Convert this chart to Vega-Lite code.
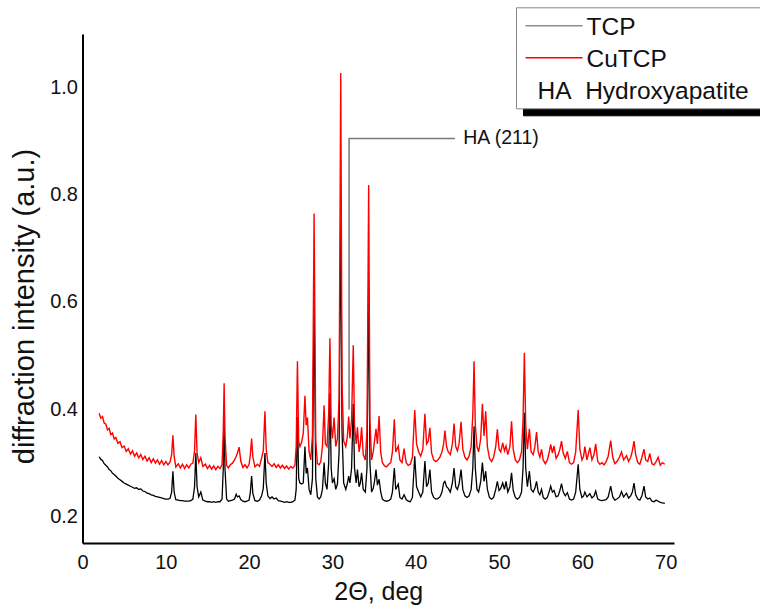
{
  "$schema": "https://vega.github.io/schema/vega-lite/v6.json",
  "width": 591.5,
  "height": 509,
  "autosize": "none",
  "padding": {"left": 82.5, "top": 34, "right": 86, "bottom": 71},
  "background": "white",
  "config": {
    "view": {"stroke": null},
    "font": "Liberation Sans",
    "axis": {
      "domainColor": "#000000",
      "domainWidth": 2,
      "ticks": false,
      "tickSize": 0,
      "grid": false,
      "labelFont": "Liberation Sans",
      "labelFontSize": 20,
      "labelColor": "#111111",
      "titleFont": "Liberation Sans",
      "titleFontWeight": "normal",
      "titleColor": "#111111"
    }
  },
  "datasets": {
    "xrd": [
      {"x":2.0,"TCP":0.311,"CuTCP":0.392},{"x":2.2,"TCP":0.306,"CuTCP":0.383},{"x":2.4,"TCP":0.304,"CuTCP":0.386},
      {"x":2.6,"TCP":0.298,"CuTCP":0.374},{"x":2.8,"TCP":0.295,"CuTCP":0.372},{"x":3.0,"TCP":0.292,"CuTCP":0.361},
      {"x":3.2,"TCP":0.287,"CuTCP":0.364},{"x":3.4,"TCP":0.285,"CuTCP":0.352},{"x":3.6,"TCP":0.280,"CuTCP":0.355},
      {"x":3.8,"TCP":0.278,"CuTCP":0.344},{"x":4.0,"TCP":0.275,"CuTCP":0.347},{"x":4.25,"TCP":0.271,"CuTCP":0.336},
      {"x":4.5,"TCP":0.268,"CuTCP":0.339},{"x":4.75,"TCP":0.265,"CuTCP":0.328},{"x":5.0,"TCP":0.262,"CuTCP":0.331},
      {"x":5.25,"TCP":0.260,"CuTCP":0.321},{"x":5.5,"TCP":0.258,"CuTCP":0.326},{"x":5.75,"TCP":0.256,"CuTCP":0.316},
      {"x":6.0,"TCP":0.254,"CuTCP":0.322},{"x":6.25,"TCP":0.252,"CuTCP":0.312},{"x":6.5,"TCP":0.253,"CuTCP":0.318},
      {"x":6.75,"TCP":0.250,"CuTCP":0.309},{"x":7.0,"TCP":0.251,"CuTCP":0.315},{"x":7.25,"TCP":0.247,"CuTCP":0.306},
      {"x":7.5,"TCP":0.246,"CuTCP":0.312},{"x":7.75,"TCP":0.243,"CuTCP":0.303},{"x":8.0,"TCP":0.242,"CuTCP":0.309},
      {"x":8.25,"TCP":0.240,"CuTCP":0.300},{"x":8.5,"TCP":0.239,"CuTCP":0.307},{"x":8.75,"TCP":0.237,"CuTCP":0.299},
      {"x":9.0,"TCP":0.236,"CuTCP":0.305},{"x":9.25,"TCP":0.235,"CuTCP":0.297},{"x":9.5,"TCP":0.234,"CuTCP":0.304},
      {"x":9.75,"TCP":0.233,"CuTCP":0.296},{"x":10.0,"TCP":0.232,"CuTCP":0.302},{"x":10.25,"TCP":0.232,"CuTCP":0.296},
      {"x":10.5,"TCP":0.233,"CuTCP":0.301},{"x":10.7,"TCP":0.245,"CuTCP":0.315},{"x":10.85,"TCP":0.284,"CuTCP":0.351},
      {"x":11.0,"TCP":0.245,"CuTCP":0.312},{"x":11.2,"TCP":0.231,"CuTCP":0.292},{"x":11.5,"TCP":0.230,"CuTCP":0.298},
      {"x":11.75,"TCP":0.229,"CuTCP":0.290},{"x":12.0,"TCP":0.229,"CuTCP":0.297},{"x":12.25,"TCP":0.228,"CuTCP":0.289},
      {"x":12.5,"TCP":0.228,"CuTCP":0.296},{"x":12.75,"TCP":0.228,"CuTCP":0.290},{"x":13.0,"TCP":0.229,"CuTCP":0.297},
      {"x":13.25,"TCP":0.232,"CuTCP":0.299},{"x":13.45,"TCP":0.255,"CuTCP":0.322},{"x":13.6,"TCP":0.318,"CuTCP":0.390},
      {"x":13.75,"TCP":0.255,"CuTCP":0.318},{"x":13.95,"TCP":0.236,"CuTCP":0.300},{"x":14.2,"TCP":0.245,"CuTCP":0.309},
      {"x":14.45,"TCP":0.230,"CuTCP":0.293},{"x":14.75,"TCP":0.228,"CuTCP":0.297},{"x":15.0,"TCP":0.227,"CuTCP":0.289},
      {"x":15.25,"TCP":0.227,"CuTCP":0.295},{"x":15.5,"TCP":0.226,"CuTCP":0.288},{"x":15.75,"TCP":0.227,"CuTCP":0.294},
      {"x":16.0,"TCP":0.226,"CuTCP":0.287},{"x":16.25,"TCP":0.227,"CuTCP":0.293},{"x":16.5,"TCP":0.227,"CuTCP":0.289},
      {"x":16.75,"TCP":0.232,"CuTCP":0.296},{"x":16.9,"TCP":0.290,"CuTCP":0.360},{"x":17.0,"TCP":0.395,"CuTCP":0.448},
      {"x":17.1,"TCP":0.290,"CuTCP":0.350},{"x":17.3,"TCP":0.232,"CuTCP":0.295},{"x":17.5,"TCP":0.228,"CuTCP":0.290},
      {"x":17.75,"TCP":0.229,"CuTCP":0.296},{"x":18.0,"TCP":0.230,"CuTCP":0.299},{"x":18.25,"TCP":0.232,"CuTCP":0.305},
      {"x":18.45,"TCP":0.241,"CuTCP":0.312},{"x":18.6,"TCP":0.236,"CuTCP":0.318},{"x":18.8,"TCP":0.238,"CuTCP":0.329},
      {"x":19.0,"TCP":0.231,"CuTCP":0.303},{"x":19.25,"TCP":0.228,"CuTCP":0.291},{"x":19.5,"TCP":0.227,"CuTCP":0.296},
      {"x":19.75,"TCP":0.228,"CuTCP":0.290},{"x":20.0,"TCP":0.230,"CuTCP":0.297},{"x":20.15,"TCP":0.245,"CuTCP":0.315},
      {"x":20.3,"TCP":0.275,"CuTCP":0.345},{"x":20.45,"TCP":0.242,"CuTCP":0.310},{"x":20.7,"TCP":0.229,"CuTCP":0.292},
      {"x":21.0,"TCP":0.228,"CuTCP":0.297},{"x":21.25,"TCP":0.230,"CuTCP":0.293},{"x":21.5,"TCP":0.238,"CuTCP":0.309},
      {"x":21.7,"TCP":0.252,"CuTCP":0.322},{"x":21.9,"TCP":0.318,"CuTCP":0.396},{"x":22.05,"TCP":0.262,"CuTCP":0.325},
      {"x":22.25,"TCP":0.238,"CuTCP":0.300},{"x":22.5,"TCP":0.233,"CuTCP":0.297},{"x":22.75,"TCP":0.236,"CuTCP":0.293},
      {"x":23.0,"TCP":0.232,"CuTCP":0.298},{"x":23.25,"TCP":0.234,"CuTCP":0.291},{"x":23.5,"TCP":0.229,"CuTCP":0.296},
      {"x":23.75,"TCP":0.228,"CuTCP":0.290},{"x":24.0,"TCP":0.227,"CuTCP":0.295},{"x":24.25,"TCP":0.226,"CuTCP":0.289},
      {"x":24.5,"TCP":0.227,"CuTCP":0.294},{"x":24.75,"TCP":0.226,"CuTCP":0.288},{"x":25.0,"TCP":0.226,"CuTCP":0.293},
      {"x":25.25,"TCP":0.227,"CuTCP":0.290},{"x":25.5,"TCP":0.230,"CuTCP":0.295},{"x":25.65,"TCP":0.250,"CuTCP":0.330},
      {"x":25.8,"TCP":0.385,"CuTCP":0.489},{"x":25.95,"TCP":0.270,"CuTCP":0.340},{"x":26.1,"TCP":0.262,"CuTCP":0.330},
      {"x":26.3,"TCP":0.260,"CuTCP":0.338},{"x":26.5,"TCP":0.262,"CuTCP":0.355},{"x":26.7,"TCP":0.330,"CuTCP":0.425},
      {"x":26.85,"TCP":0.280,"CuTCP":0.370},{"x":27.0,"TCP":0.290,"CuTCP":0.384},{"x":27.2,"TCP":0.250,"CuTCP":0.320},
      {"x":27.4,"TCP":0.240,"CuTCP":0.305},{"x":27.6,"TCP":0.270,"CuTCP":0.350},{"x":27.8,"TCP":0.600,"CuTCP":0.765},
      {"x":28.0,"TCP":0.270,"CuTCP":0.340},{"x":28.2,"TCP":0.236,"CuTCP":0.298},{"x":28.4,"TCP":0.232,"CuTCP":0.296},
      {"x":28.6,"TCP":0.236,"CuTCP":0.302},{"x":28.8,"TCP":0.250,"CuTCP":0.330},{"x":29.0,"TCP":0.300,"CuTCP":0.407},
      {"x":29.15,"TCP":0.262,"CuTCP":0.335},{"x":29.35,"TCP":0.250,"CuTCP":0.330},{"x":29.55,"TCP":0.300,"CuTCP":0.390},
      {"x":29.7,"TCP":0.430,"CuTCP":0.532},{"x":29.85,"TCP":0.290,"CuTCP":0.370},{"x":30.0,"TCP":0.262,"CuTCP":0.345},
      {"x":30.2,"TCP":0.270,"CuTCP":0.384},{"x":30.4,"TCP":0.250,"CuTCP":0.330},{"x":30.6,"TCP":0.260,"CuTCP":0.345},
      {"x":30.8,"TCP":0.320,"CuTCP":0.420},{"x":31.0,"TCP":0.800,"CuTCP":1.027},{"x":31.15,"TCP":0.360,"CuTCP":0.450},
      {"x":31.35,"TCP":0.262,"CuTCP":0.340},{"x":31.6,"TCP":0.250,"CuTCP":0.330},{"x":31.8,"TCP":0.262,"CuTCP":0.350},
      {"x":31.95,"TCP":0.275,"CuTCP":0.386},{"x":32.1,"TCP":0.262,"CuTCP":0.345},{"x":32.3,"TCP":0.290,"CuTCP":0.380},
      {"x":32.5,"TCP":0.410,"CuTCP":0.519},{"x":32.65,"TCP":0.290,"CuTCP":0.370},{"x":32.85,"TCP":0.262,"CuTCP":0.335},
      {"x":33.0,"TCP":0.287,"CuTCP":0.366},{"x":33.2,"TCP":0.255,"CuTCP":0.320},{"x":33.35,"TCP":0.262,"CuTCP":0.335},
      {"x":33.5,"TCP":0.281,"CuTCP":0.366},{"x":33.7,"TCP":0.250,"CuTCP":0.315},{"x":33.95,"TCP":0.245,"CuTCP":0.305},
      {"x":34.15,"TCP":0.290,"CuTCP":0.360},{"x":34.35,"TCP":0.640,"CuTCP":0.818},{"x":34.5,"TCP":0.300,"CuTCP":0.380},
      {"x":34.7,"TCP":0.245,"CuTCP":0.305},{"x":34.9,"TCP":0.252,"CuTCP":0.320},{"x":35.05,"TCP":0.265,"CuTCP":0.340},
      {"x":35.23,"TCP":0.287,"CuTCP":0.363},{"x":35.4,"TCP":0.258,"CuTCP":0.335},{"x":35.6,"TCP":0.269,"CuTCP":0.387},
      {"x":35.8,"TCP":0.245,"CuTCP":0.318},{"x":36.0,"TCP":0.232,"CuTCP":0.300},{"x":36.25,"TCP":0.229,"CuTCP":0.294},
      {"x":36.5,"TCP":0.228,"CuTCP":0.292},{"x":36.75,"TCP":0.229,"CuTCP":0.297},{"x":37.0,"TCP":0.232,"CuTCP":0.300},
      {"x":37.2,"TCP":0.245,"CuTCP":0.320},{"x":37.43,"TCP":0.290,"CuTCP":0.381},{"x":37.6,"TCP":0.250,"CuTCP":0.320},
      {"x":37.9,"TCP":0.260,"CuTCP":0.331},{"x":38.1,"TCP":0.235,"CuTCP":0.305},{"x":38.35,"TCP":0.232,"CuTCP":0.300},
      {"x":38.6,"TCP":0.240,"CuTCP":0.326},{"x":38.85,"TCP":0.231,"CuTCP":0.300},{"x":39.1,"TCP":0.228,"CuTCP":0.295},
      {"x":39.35,"TCP":0.227,"CuTCP":0.297},{"x":39.6,"TCP":0.235,"CuTCP":0.310},{"x":39.88,"TCP":0.312,"CuTCP":0.398},
      {"x":40.1,"TCP":0.255,"CuTCP":0.335},{"x":40.35,"TCP":0.245,"CuTCP":0.320},{"x":40.6,"TCP":0.236,"CuTCP":0.312},
      {"x":40.85,"TCP":0.245,"CuTCP":0.325},{"x":41.1,"TCP":0.303,"CuTCP":0.391},{"x":41.3,"TCP":0.255,"CuTCP":0.335},
      {"x":41.5,"TCP":0.262,"CuTCP":0.340},{"x":41.7,"TCP":0.287,"CuTCP":0.365},{"x":41.9,"TCP":0.245,"CuTCP":0.318},
      {"x":42.15,"TCP":0.235,"CuTCP":0.305},{"x":42.4,"TCP":0.232,"CuTCP":0.302},{"x":42.65,"TCP":0.233,"CuTCP":0.305},
      {"x":42.9,"TCP":0.236,"CuTCP":0.310},{"x":43.15,"TCP":0.245,"CuTCP":0.320},{"x":43.35,"TCP":0.262,"CuTCP":0.335},
      {"x":43.5,"TCP":0.265,"CuTCP":0.360},{"x":43.7,"TCP":0.255,"CuTCP":0.330},{"x":43.9,"TCP":0.252,"CuTCP":0.320},
      {"x":44.15,"TCP":0.245,"CuTCP":0.315},{"x":44.4,"TCP":0.262,"CuTCP":0.335},{"x":44.6,"TCP":0.290,"CuTCP":0.373},
      {"x":44.8,"TCP":0.255,"CuTCP":0.330},{"x":45.0,"TCP":0.250,"CuTCP":0.322},{"x":45.2,"TCP":0.260,"CuTCP":0.335},
      {"x":45.44,"TCP":0.287,"CuTCP":0.376},{"x":45.65,"TCP":0.250,"CuTCP":0.325},{"x":45.9,"TCP":0.238,"CuTCP":0.310},
      {"x":46.15,"TCP":0.235,"CuTCP":0.305},{"x":46.4,"TCP":0.238,"CuTCP":0.312},{"x":46.65,"TCP":0.250,"CuTCP":0.330},
      {"x":46.85,"TCP":0.290,"CuTCP":0.390},{"x":47.0,"TCP":0.368,"CuTCP":0.489},{"x":47.15,"TCP":0.290,"CuTCP":0.370},
      {"x":47.35,"TCP":0.250,"CuTCP":0.330},{"x":47.55,"TCP":0.245,"CuTCP":0.320},{"x":47.8,"TCP":0.265,"CuTCP":0.345},
      {"x":48.0,"TCP":0.300,"CuTCP":0.410},{"x":48.2,"TCP":0.265,"CuTCP":0.350},{"x":48.4,"TCP":0.284,"CuTCP":0.396},
      {"x":48.6,"TCP":0.250,"CuTCP":0.330},{"x":48.85,"TCP":0.235,"CuTCP":0.308},{"x":49.1,"TCP":0.232,"CuTCP":0.302},
      {"x":49.35,"TCP":0.235,"CuTCP":0.310},{"x":49.6,"TCP":0.250,"CuTCP":0.330},{"x":49.8,"TCP":0.265,"CuTCP":0.362},
      {"x":50.0,"TCP":0.248,"CuTCP":0.325},{"x":50.2,"TCP":0.252,"CuTCP":0.320},{"x":50.44,"TCP":0.262,"CuTCP":0.337},
      {"x":50.65,"TCP":0.250,"CuTCP":0.322},{"x":50.84,"TCP":0.265,"CuTCP":0.331},{"x":51.05,"TCP":0.245,"CuTCP":0.315},
      {"x":51.3,"TCP":0.255,"CuTCP":0.330},{"x":51.5,"TCP":0.281,"CuTCP":0.377},{"x":51.7,"TCP":0.248,"CuTCP":0.325},
      {"x":51.95,"TCP":0.235,"CuTCP":0.305},{"x":52.2,"TCP":0.232,"CuTCP":0.300},{"x":52.45,"TCP":0.235,"CuTCP":0.305},
      {"x":52.7,"TCP":0.245,"CuTCP":0.320},{"x":52.88,"TCP":0.290,"CuTCP":0.380},{"x":53.04,"TCP":0.393,"CuTCP":0.505},
      {"x":53.2,"TCP":0.290,"CuTCP":0.370},{"x":53.4,"TCP":0.255,"CuTCP":0.325},{"x":53.64,"TCP":0.284,"CuTCP":0.363},
      {"x":53.85,"TCP":0.250,"CuTCP":0.320},{"x":54.1,"TCP":0.245,"CuTCP":0.315},{"x":54.3,"TCP":0.252,"CuTCP":0.330},
      {"x":54.5,"TCP":0.265,"CuTCP":0.357},{"x":54.7,"TCP":0.245,"CuTCP":0.320},{"x":54.9,"TCP":0.240,"CuTCP":0.310},
      {"x":55.1,"TCP":0.250,"CuTCP":0.325},{"x":55.3,"TCP":0.235,"CuTCP":0.305},{"x":55.55,"TCP":0.232,"CuTCP":0.298},
      {"x":55.8,"TCP":0.235,"CuTCP":0.305},{"x":56.0,"TCP":0.245,"CuTCP":0.318},{"x":56.2,"TCP":0.256,"CuTCP":0.334},
      {"x":56.4,"TCP":0.245,"CuTCP":0.318},{"x":56.6,"TCP":0.248,"CuTCP":0.331},{"x":56.85,"TCP":0.236,"CuTCP":0.308},
      {"x":57.1,"TCP":0.238,"CuTCP":0.315},{"x":57.3,"TCP":0.248,"CuTCP":0.325},{"x":57.5,"TCP":0.261,"CuTCP":0.340},
      {"x":57.7,"TCP":0.245,"CuTCP":0.318},{"x":57.95,"TCP":0.238,"CuTCP":0.308},{"x":58.2,"TCP":0.244,"CuTCP":0.321},
      {"x":58.45,"TCP":0.232,"CuTCP":0.300},{"x":58.7,"TCP":0.230,"CuTCP":0.297},{"x":58.95,"TCP":0.232,"CuTCP":0.300},
      {"x":59.2,"TCP":0.245,"CuTCP":0.320},{"x":59.5,"TCP":0.297,"CuTCP":0.398},{"x":59.7,"TCP":0.250,"CuTCP":0.325},
      {"x":59.95,"TCP":0.235,"CuTCP":0.305},{"x":60.15,"TCP":0.238,"CuTCP":0.312},{"x":60.3,"TCP":0.245,"CuTCP":0.330},
      {"x":60.55,"TCP":0.236,"CuTCP":0.305},{"x":60.9,"TCP":0.242,"CuTCP":0.328},{"x":61.15,"TCP":0.234,"CuTCP":0.305},
      {"x":61.4,"TCP":0.238,"CuTCP":0.315},{"x":61.6,"TCP":0.247,"CuTCP":0.335},{"x":61.85,"TCP":0.232,"CuTCP":0.302},
      {"x":62.1,"TCP":0.230,"CuTCP":0.297},{"x":62.35,"TCP":0.229,"CuTCP":0.300},{"x":62.6,"TCP":0.230,"CuTCP":0.296},
      {"x":62.85,"TCP":0.231,"CuTCP":0.302},{"x":63.1,"TCP":0.236,"CuTCP":0.312},{"x":63.4,"TCP":0.256,"CuTCP":0.341},
      {"x":63.65,"TCP":0.236,"CuTCP":0.310},{"x":63.9,"TCP":0.230,"CuTCP":0.298},{"x":64.15,"TCP":0.232,"CuTCP":0.302},
      {"x":64.45,"TCP":0.236,"CuTCP":0.310},{"x":64.7,"TCP":0.246,"CuTCP":0.320},{"x":64.95,"TCP":0.236,"CuTCP":0.305},
      {"x":65.3,"TCP":0.243,"CuTCP":0.313},{"x":65.55,"TCP":0.234,"CuTCP":0.302},{"x":65.8,"TCP":0.238,"CuTCP":0.310},
      {"x":66.0,"TCP":0.245,"CuTCP":0.322},{"x":66.2,"TCP":0.262,"CuTCP":0.340},{"x":66.4,"TCP":0.240,"CuTCP":0.315},
      {"x":66.65,"TCP":0.232,"CuTCP":0.300},{"x":66.9,"TCP":0.230,"CuTCP":0.297},{"x":67.15,"TCP":0.238,"CuTCP":0.310},
      {"x":67.4,"TCP":0.256,"CuTCP":0.325},{"x":67.6,"TCP":0.236,"CuTCP":0.305},{"x":67.85,"TCP":0.232,"CuTCP":0.302},
      {"x":68.1,"TCP":0.234,"CuTCP":0.317},{"x":68.35,"TCP":0.228,"CuTCP":0.298},{"x":68.6,"TCP":0.227,"CuTCP":0.296},
      {"x":68.85,"TCP":0.230,"CuTCP":0.302},{"x":69.1,"TCP":0.228,"CuTCP":0.310},{"x":69.35,"TCP":0.226,"CuTCP":0.295},
      {"x":69.6,"TCP":0.225,"CuTCP":0.300},{"x":69.9,"TCP":0.224,"CuTCP":0.297}
    ],
    "leader": [
      {"x": 32.0, "value": 0.399, "o": 1},
      {"x": 32.0, "value": 0.905, "o": 2},
      {"x": 44.7, "value": 0.905, "o": 3}
    ],
    "note": [
      {"x": 45.7, "value": 0.905, "label": "HA (211)"}
    ]
  },
  "encoding": {
    "x": {
      "field": "x", "type": "quantitative",
      "scale": {"domain": [0, 71], "nice": false, "zero": false},
      "axis": {"title": "2Θ, deg", "values": [0,10,20,30,40,50,60,70], "format": "d", "labelPadding": 9, "titleFontSize": 25, "titlePadding": 7, "labelFlush": false}
    },
    "y": {
      "field": "value", "type": "quantitative",
      "scale": {"domain": [0.15, 1.1], "nice": false, "zero": false},
      "axis": {"title": "diffraction intensity (a.u.)", "values": [0.2,0.4,0.6,0.8,1.0], "format": ".1f", "labelPadding": 5, "titleFontSize": 29, "titleX": -58, "titleY": 272, "titleAngle": 270, "titleAlign": "center", "titleBaseline": "middle"}
    }
  },
  "layer": [
    {
      "data": {"name": "xrd"},
      "transform": [{"fold": ["TCP"], "as": ["series", "value"]}],
      "mark": {"type": "line", "strokeWidth": 1.3, "color": "#000000", "clip": true}
    },
    {
      "data": {"name": "xrd"},
      "transform": [{"fold": ["CuTCP"], "as": ["series", "value"]}],
      "mark": {"type": "line", "clip": true},
      "encoding": {
        "color": {
          "field": "series", "type": "nominal",
          "scale": {"domain": ["TCP", "CuTCP", "HA"], "range": ["#8c8c8c", "#ff0000", "#ffffff"]},
          "legend": {
            "orient": "none", "legendX": 433.5, "legendY": -26.7, "title": null, "zindex": 2,
            "symbolType": "stroke", "symbolSize": 3249, "symbolStrokeWidth": 1.5, "symbolOffset": 6,
            "labelFont": "Liberation Sans", "labelFontSize": 24.5, "labelColor": "#111111", "labelOffset": 3, "labelLimit": 600,
            "padding": 2.5, "rowPadding": 0, "clipHeight": 32,
            "fillColor": "#ffffff", "strokeColor": "#888888",
            "labelExpr": "datum.value == 'HA' ? 'HA\u00a0\u00a0Hydroxyapatite\u00a0\u2800\u2800\u2800\u2800' : datum.value",
            "encode": {
              "labels": {"update": {"dx": {"signal": "datum.value == 'HA' ? -49 : 0"}, "dy": {"value": 2}}}
            }
          }
        },
        "strokeWidth": {
          "field": "series", "type": "nominal",
          "scale": {"domain": ["CuTCP", "TCP", "HA"], "range": [1.4, 1.4, 1.4]},
          "legend": {
            "orient": "none", "legendX": 440.5, "legendY": -19.7, "title": null, "zindex": 1,
            "symbolType": "stroke", "symbolSize": 3249, "symbolStrokeColor": "#000000", "symbolOffset": 6,
            "labelFont": "Liberation Sans", "labelFontSize": 24.5, "labelColor": "#000000", "labelOffset": 3, "labelLimit": 600,
            "padding": 2.5, "rowPadding": 0, "clipHeight": 32,
            "fillColor": "#000000", "strokeColor": "#000000",
            "labelExpr": "datum.value == 'HA' ? 'HA\u00a0\u00a0Hydroxyapatite\u00a0\u2800\u2800\u2800\u2800' : datum.value"
          }
        }
      }
    },
    {
      "data": {"name": "leader"},
      "mark": {"type": "line", "color": "#777777", "strokeWidth": 1.5},
      "encoding": {
        "order": {"field": "o", "type": "quantitative"}
      }
    },
    {
      "data": {"name": "note"},
      "mark": {"type": "text", "align": "left", "baseline": "middle", "fontSize": 19.5, "font": "Liberation Sans", "color": "#111111"},
      "encoding": {
        "text": {"field": "label"}
      }
    }
  ]
}
